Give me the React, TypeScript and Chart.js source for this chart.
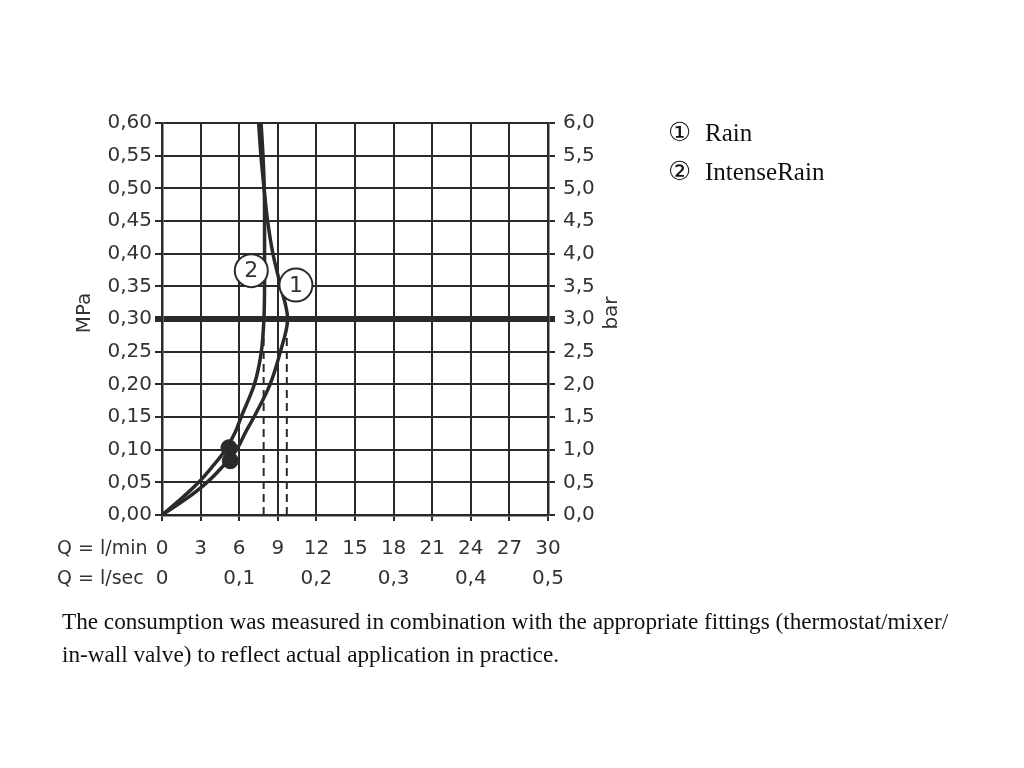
import React, { useEffect, useRef } from 'react';
import { Chart, registerables } from 'chart.js';

Chart.register(...registerables);

// ---- data ----
const pressureMPa = [0, 0.025, 0.05, 0.075, 0.1, 0.125, 0.15, 0.2, 0.25, 0.3, 0.35, 0.4, 0.45, 0.5, 0.55, 0.6];
const rainFlow = [0, 1.9, 3.5, 4.75, 5.8, 6.45, 7.15, 8.4, 9.2, 9.76, 9.22, 8.62, 8.21, 7.93, 7.69, 7.51];
const intenseRainFlow = [0, 1.5, 2.85, 3.95, 4.95, 5.65, 6.15, 7.18, 7.72, 7.92, 7.97, 7.97, 7.97, 7.95, 7.85, 7.7];

const flowTicksLmin = ['0', '3', '6', '9', '12', '15', '18', '21', '24', '27', '30'];
const flowTicksLsec = ['0', '', '0,1', '', '0,2', '', '0,3', '', '0,4', '', '0,5'];

const dotFlow = [5.2, 5.31];
const dotPressure = [0.103, 0.083];

const dashFlow = [9.7, 7.9];
const dashPressure = [0, 0.275];

const markerIds = ['1', '2'];
const markerFlow = [10.41, 6.94];
const markerPressure = [0.352, 0.374];

const legendSymbols = ['\u2460', '\u2461'];
const legendLabels = ['Rain', 'IntenseRain'];
const captionLines = [
  'The consumption was measured in combination with the appropriate fittings (thermostat/mixer/',
  'in-wall valve) to reflect actual application in practice.',
];

const INK = '#2a2a2a';
const TXT = '#333333';
const SANS = '"DejaVu Sans"';
const TICK_SIZE = 20;

const overlayPlugin = {
  id: 'overlay',
  afterDatasetsDraw(chart: any) {
    const { ctx, chartArea } = chart;
    const xs = chart.scales.x;
    const ys = chart.scales.y;
    ctx.save();
    markerIds.forEach((id, i) => {
      const px = xs.getPixelForValue(markerFlow[i]);
      const py = ys.getPixelForValue(markerPressure[i]);
      ctx.beginPath();
      ctx.arc(px, py, 16.5, 0, Math.PI * 2);
      ctx.fillStyle = '#ffffff';
      ctx.fill();
      ctx.lineWidth = 2;
      ctx.strokeStyle = INK;
      ctx.stroke();
      ctx.fillStyle = TXT;
      ctx.font = `22px ${SANS}`;
      ctx.textAlign = 'center';
      ctx.textBaseline = 'middle';
      ctx.fillText(id, px, py + 1);
    });
    ctx.fillStyle = TXT;
    ctx.font = `${TICK_SIZE}px ${SANS}`;
    // axis titles
    const midY = chartArea.top + 190;
    ctx.save();
    ctx.translate(chartArea.left - 77, midY);
    ctx.rotate(-Math.PI / 2);
    ctx.textAlign = 'center';
    ctx.textBaseline = 'middle';
    ctx.fillText('MPa', 0, 0);
    ctx.restore();
    ctx.save();
    ctx.translate(chartArea.right + 64, midY);
    ctx.rotate(-Math.PI / 2);
    ctx.textAlign = 'center';
    ctx.textBaseline = 'middle';
    ctx.fillText('bar', 0, 0);
    ctx.restore();
    // flow row captions
    ctx.font = `19px ${SANS}`;
    ctx.textAlign = 'left';
    ctx.textBaseline = 'middle';
    ctx.fillText('Q = l/min', chartArea.left - 105, chartArea.bottom + 34);
    ctx.fillText('Q = l/sec', chartArea.left - 105, chartArea.bottom + 64);
    ctx.restore();
  },
};

export default function App() {
  const canvasRef = useRef<HTMLCanvasElement | null>(null);

  useEffect(() => {
    if (!canvasRef.current) return;
    const curve = (vals: number[]) => pressureMPa.map((p, i) => ({ x: vals[i], y: p }));
    const dash = (f: number) => dashPressure.map((p) => ({ x: f, y: p }));
    const gridW = (v: number, thick: number) => (Math.abs(v - thick) < 1e-6 ? 6 : 2);

    const chart = new Chart(canvasRef.current, {
      type: 'line',
      data: {
        datasets: [
          {
            label: 'Rain',
            data: curve(rainFlow),
            borderColor: INK,
            borderWidth: 3.5,
            pointRadius: 0,
            cubicInterpolationMode: 'monotone',
            xAxisID: 'x',
            yAxisID: 'y',
          },
          {
            label: 'IntenseRain',
            data: curve(intenseRainFlow),
            borderColor: INK,
            borderWidth: 3.5,
            pointRadius: 0,
            cubicInterpolationMode: 'monotone',
            xAxisID: 'x',
            yAxisID: 'y',
          },
          ...dashFlow.map((f) => ({
            label: 'dash',
            data: dash(f),
            borderColor: INK,
            borderWidth: 2,
            borderDash: [8, 5],
            pointRadius: 0,
            tension: 0,
            xAxisID: 'x',
            yAxisID: 'y',
          })),
          {
            type: 'scatter',
            label: 'dots',
            data: dotFlow.map((f, i) => ({ x: f, y: dotPressure[i] })),
            backgroundColor: INK,
            borderColor: INK,
            pointRadius: 8,
            showLine: false,
            xAxisID: 'x',
            yAxisID: 'y',
          },
        ] as any,
      },
      options: {
        animation: false,
        responsive: true,
        maintainAspectRatio: false,
        indexAxis: 'y',
        layout: { padding: { top: 123, left: 0, right: 0, bottom: 0 } },
        plugins: { legend: { display: false }, tooltip: { enabled: false } },
        scales: {
          x: {
            type: 'linear',
            position: 'bottom',
            min: 0,
            max: 30,
            afterFit: (s: any) => { s.height = 253; },
            border: { color: INK, width: 2.5 },
            grid: { color: INK, lineWidth: 2, tickLength: 6, tickColor: INK },
            ticks: {
              stepSize: 3,
              autoSkip: false,
              maxRotation: 0,
              padding: 13,
              color: TXT,
              font: { family: 'DejaVu Sans', size: TICK_SIZE, lineHeight: 30 / TICK_SIZE },
              callback: (v: any) => {
                const i = Math.round(Number(v) / 3);
                return [flowTicksLmin[i] ?? '', flowTicksLsec[i] ?? ''];
              },
            },
          },
          y: {
            type: 'linear',
            position: 'left',
            min: 0,
            max: 0.6,
            afterFit: (s: any) => { s.width = 162; },
            border: { color: INK, width: 2.5 },
            grid: {
              color: INK,
              tickColor: INK,
              tickLength: 7,
              lineWidth: (c: any) => gridW(c.tick ? c.tick.value : 0, 0.3),
            },
            ticks: {
              stepSize: 0.05,
              autoSkip: false,
              padding: 3,
              color: TXT,
              font: { family: 'DejaVu Sans', size: TICK_SIZE },
              callback: (v: any) => Number(v).toFixed(2).replace('.', ','),
            },
          },
          yBar: {
            type: 'linear',
            position: 'right',
            min: 0,
            max: 6,
            afterFit: (s: any) => { s.width = 476; },
            border: { color: INK, width: 2.5 },
            grid: {
              drawOnChartArea: false,
              color: INK,
              tickColor: INK,
              tickLength: 7,
              lineWidth: (c: any) => gridW(c.tick ? c.tick.value : 0, 3),
            },
            ticks: {
              stepSize: 0.5,
              autoSkip: false,
              padding: 8,
              color: TXT,
              font: { family: 'DejaVu Sans', size: TICK_SIZE },
              callback: (v: any) => Number(v).toFixed(1).replace('.', ','),
            },
          },
        },
      } as any,
      plugins: [overlayPlugin],
    });
    return () => chart.destroy();
  }, []);

  return (
    <div style={{ position: 'absolute', left: 0, top: 0, width: 1024, height: 768, background: '#fff', overflow: 'hidden' }}>
      <div style={{ position: 'absolute', left: 0, top: 0, width: 1024, height: 768 }}>
        <canvas ref={canvasRef} />
      </div>
      {legendLabels.map((t, i) => (
        <React.Fragment key={t}>
          <div
            style={{
              position: 'absolute',
              left: 668,
              top: 117 + i * 39,
              font: '26px "DejaVu Sans", sans-serif',
              color: '#111',
              lineHeight: '30px',
            }}
          >
            {legendSymbols[i]}
          </div>
          <div
            style={{
              position: 'absolute',
              left: 705,
              top: 118 + i * 39,
              font: '25px "Liberation Serif", serif',
              color: '#111',
              whiteSpace: 'nowrap',
              lineHeight: '30px',
            }}
          >
            {t}
          </div>
        </React.Fragment>
      ))}
      {captionLines.map((t, i) => (
        <div
          key={t}
          style={{
            position: 'absolute',
            left: 62,
            top: 605 + i * 33,
            font: '23.2px "Liberation Serif", serif',
            color: '#111',
            whiteSpace: 'nowrap',
            lineHeight: '33px',
          }}
        >
          {t}
        </div>
      ))}
    </div>
  );
}
